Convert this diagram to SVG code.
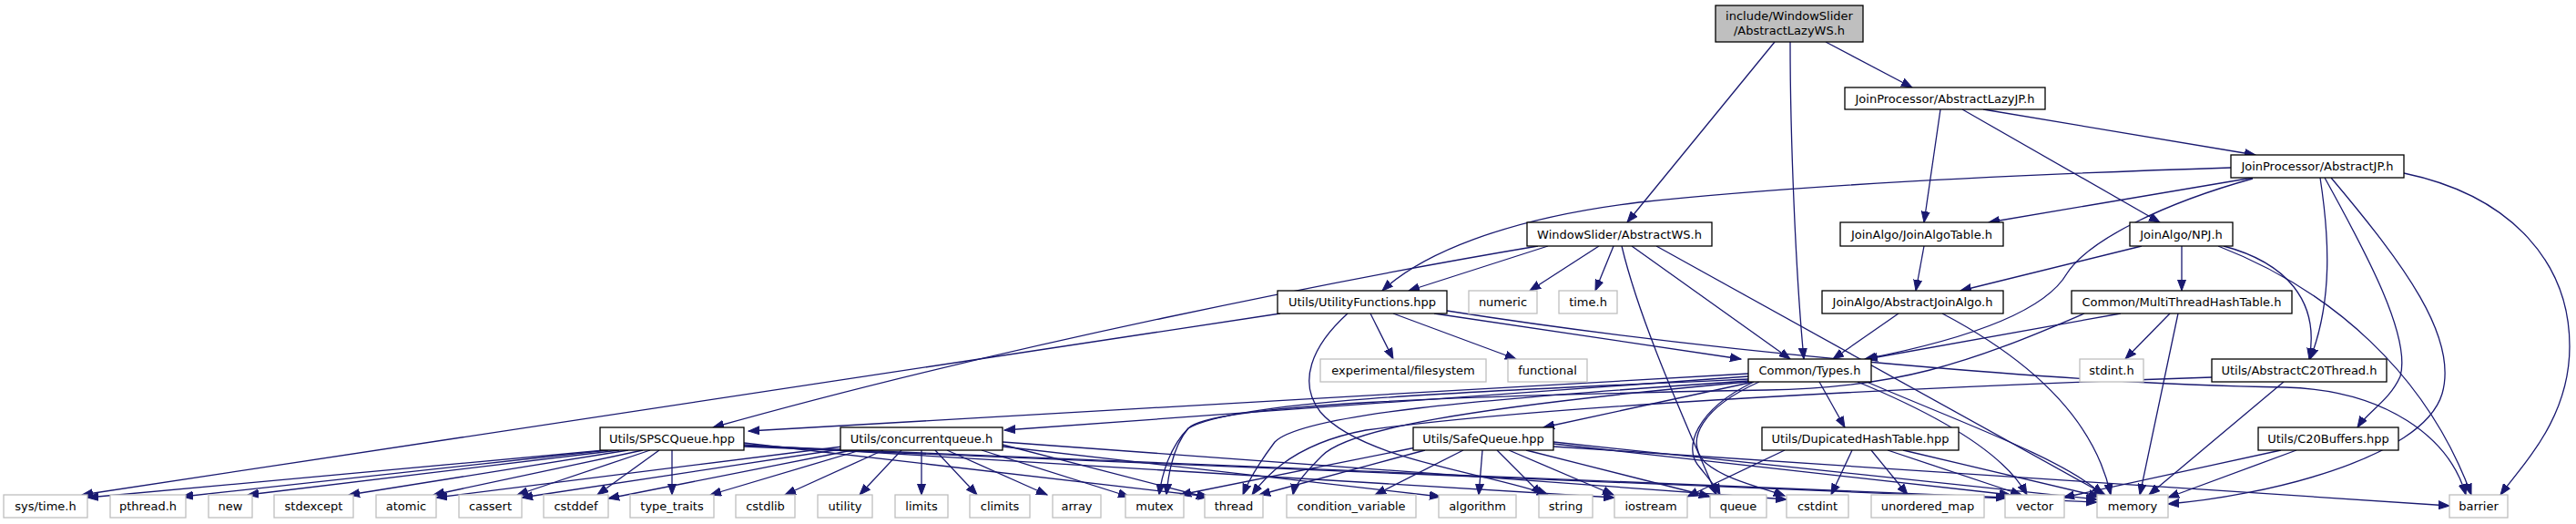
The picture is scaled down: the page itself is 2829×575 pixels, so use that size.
<svg xmlns="http://www.w3.org/2000/svg" width="2829" height="575" viewBox="0 0 2829 575">
<defs>
<style>
.e{fill:none;stroke:#191970;stroke-width:1.3;marker-end:url(#a)}
.n{fill:#ffffff;stroke:#000000;stroke-width:1.3}
.l{fill:#ffffff;stroke:#bfbfbf;stroke-width:1.3}
.r{fill:#bfbfbf;stroke:#000000;stroke-width:1.3}
text{font-family:"DejaVu Sans",sans-serif;font-size:13px;fill:#000000;text-anchor:middle}
</style>
<marker id="a" markerUnits="userSpaceOnUse" markerWidth="13" markerHeight="10" viewBox="0 0 13 10" refX="12" refY="5" orient="auto"><path d="M0,0.5 L12,5 L0,9.5 z" fill="#191970" stroke="#191970" stroke-width="1"/></marker>
</defs>
<rect width="2829" height="575" fill="#ffffff"/>
<g id="edges">
<path class="e" d="M1949,46 L1787,244"/>
<path class="e" d="M1966,46 C1966,150 1972,300 1981,394"/>
<path class="e" d="M2005,46 L2100,96"/>
<path class="e" d="M2178,120 L2477,170"/>
<path class="e" d="M2131,120 L2113,244"/>
<path class="e" d="M2155,120 L2372,244"/>
<path class="e" d="M2450,184 C2200,192 1960,205 1800,222 C1650,240 1560,280 1518,319"/>
<path class="e" d="M2474,195 L2184,244"/>
<path class="e" d="M2474,196 C2380,222 2295,262 2270,300 C2240,352 2120,380 2048,394"/>
<path class="e" d="M2548,195 C2558,260 2562,330 2537,394"/>
<path class="e" d="M2553,195 C2600,280 2648,370 2636,413 C2624,440 2600,452 2589,469"/>
<path class="e" d="M2560,195 C2640,290 2700,370 2682,432 C2660,505 2480,545 2381,553"/>
<path class="e" d="M2640,190 C2760,215 2822,290 2822,380 C2822,460 2770,510 2746,543"/>
<path class="e" d="M2352,270 L2153,319"/>
<path class="e" d="M2396,270 L2396,319"/>
<path class="e" d="M2442,270 C2510,288 2548,330 2536,394"/>
<path class="e" d="M2436,270 C2560,318 2665,410 2714,543"/>
<path class="e" d="M2113,270 L2104,319"/>
<path class="e" d="M1700,270 L1547,319"/>
<path class="e" d="M1689,270 C1480,305 1100,380 783,469"/>
<path class="e" d="M1756,270 L1680,319"/>
<path class="e" d="M1772,270 L1752,319"/>
<path class="e" d="M1792,270 L1966,394"/>
<path class="e" d="M1781,270 C1800,350 1845,450 1885,543"/>
<path class="e" d="M1819,270 L2312,543"/>
<path class="e" d="M1406,344 L90,543"/>
<path class="e" d="M1505,344 L1530,394"/>
<path class="e" d="M1530,344 L1665,394"/>
<path class="e" d="M1575,344 L1912,394"/>
<path class="e" d="M1589,341 C1900,390 2300,422 2510,425 C2620,428 2690,480 2708,543"/>
<path class="e" d="M1480,344 C1440,380 1425,420 1450,452 C1495,505 1640,520 1700,543"/>
<path class="e" d="M1920,410 L822,473"/>
<path class="e" d="M1920,413 L1103,472"/>
<path class="e" d="M1926,419 L1695,469"/>
<path class="e" d="M1998,419 L2026,469"/>
<path class="e" d="M1932,419 C1870,447 1850,482 1872,507 C1895,527 1935,535 1960,544"/>
<path class="e" d="M1926,419 C1862,450 1848,492 1866,512 C1878,527 1885,535 1889,543"/>
<path class="e" d="M2040,419 C2120,452 2200,495 2226,543"/>
<path class="e" d="M2050,419 C2150,462 2270,505 2309,543"/>
<path class="e" d="M1920,416 C1600,430 1355,440 1305,470 C1285,490 1276,520 1273,543"/>
<path class="e" d="M1920,418 C1620,438 1430,455 1400,485 C1385,505 1372,525 1365,543"/>
<path class="e" d="M1920,419 C1600,448 1480,472 1452,500 C1432,520 1422,532 1420,543"/>
<path class="e" d="M1565,494 L1383,543"/>
<path class="e" d="M1607,494 L1510,543"/>
<path class="e" d="M1628,494 L1624,543"/>
<path class="e" d="M1644,494 L1693,543"/>
<path class="e" d="M1657,494 L1772,543"/>
<path class="e" d="M1676,494 L1878,545"/>
<path class="e" d="M1555,491 L1296,543"/>
<path class="e" d="M1706,487 L2208,543"/>
<path class="e" d="M1706,485 L2303,548"/>
<path class="e" d="M1706,490 L2690,555"/>
<path class="e" d="M664,494 L96,546"/>
<path class="e" d="M668,494 L200,545"/>
<path class="e" d="M680,494 L272,543"/>
<path class="e" d="M690,494 L383,543"/>
<path class="e" d="M706,494 L476,543"/>
<path class="e" d="M714,494 L568,543"/>
<path class="e" d="M724,494 L656,543"/>
<path class="e" d="M738,494 L738,543"/>
<path class="e" d="M817,488 L1773,546"/>
<path class="e" d="M817,486 L1328,545"/>
<path class="e" d="M817,490 L2303,551"/>
<path class="e" d="M817,489 L2204,546"/>
<path class="e" d="M925,490 L479,546"/>
<path class="e" d="M930,492 L573,546"/>
<path class="e" d="M936,494 L668,547"/>
<path class="e" d="M945,494 L780,543"/>
<path class="e" d="M970,494 L862,543"/>
<path class="e" d="M990,494 L944,543"/>
<path class="e" d="M1012,494 L1012,543"/>
<path class="e" d="M1027,494 L1073,543"/>
<path class="e" d="M1040,494 L1150,543"/>
<path class="e" d="M1078,494 L1240,545"/>
<path class="e" d="M1101,488 L1326,546"/>
<path class="e" d="M1101,490 L1582,545"/>
<path class="e" d="M1101,485 L1962,548"/>
<path class="e" d="M2329,344 L2050,394"/>
<path class="e" d="M2383,344 L2334,394"/>
<path class="e" d="M2392,344 L2350,543"/>
<path class="e" d="M2289,344 C2160,400 2080,426 1940,428 C1600,434 1330,444 1305,470 C1288,490 1283,520 1281,543"/>
<path class="e" d="M2085,344 L2013,394"/>
<path class="e" d="M2133,344 C2230,395 2300,460 2318,543"/>
<path class="e" d="M2505,494 L2266,546"/>
<path class="e" d="M2522,494 L2381,546"/>
<path class="e" d="M2508,419 L2360,543"/>
<path class="e" d="M2429,414 C2100,425 1700,445 1500,472 C1430,485 1395,515 1375,543"/>
<path class="e" d="M1960,494 L1853,545"/>
<path class="e" d="M2034,494 L2011,543"/>
<path class="e" d="M2055,494 L2095,543"/>
<path class="e" d="M2073,494 L2220,543"/>
<path class="e" d="M2090,494 L2306,545"/>
</g>
<g id="node-root"><rect class="r" x="1884" y="6" width="162" height="40"/><text x="1965" y="22">include/WindowSlider</text><text x="1965" y="38">/AbstractLazyWS.h</text></g>
<g id="node-lazyjp"><rect class="n" x="2026" y="96" width="220" height="24"/><text x="2136" y="112.5">JoinProcessor/AbstractLazyJP.h</text></g>
<g id="node-abstractjp"><rect class="n" x="2450" y="170" width="190" height="25"/><text x="2545" y="187">JoinProcessor/AbstractJP.h</text></g>
<g id="node-abstractws"><rect class="n" x="1677" y="244" width="203" height="26"/><text x="1778.5" y="261.5">WindowSlider/AbstractWS.h</text></g>
<g id="node-joinalgotable"><rect class="n" x="2021" y="244" width="179" height="26"/><text x="2110.5" y="261.5">JoinAlgo/JoinAlgoTable.h</text></g>
<g id="node-npj"><rect class="n" x="2339" y="244" width="113" height="26"/><text x="2395.5" y="261.5">JoinAlgo/NPJ.h</text></g>
<g id="node-utility"><rect class="n" x="1403" y="319" width="186" height="25"/><text x="1496" y="336">Utils/UtilityFunctions.hpp</text></g>
<g id="node-numeric"><rect class="l" x="1613" y="319" width="75" height="25"/><text x="1650.5" y="336">numeric</text></g>
<g id="node-timeh"><rect class="l" x="1712" y="319" width="64" height="25"/><text x="1744" y="336">time.h</text></g>
<g id="node-abstractjoinalgo"><rect class="n" x="2001" y="319" width="199" height="25"/><text x="2100.5" y="336">JoinAlgo/AbstractJoinAlgo.h</text></g>
<g id="node-mtht"><rect class="n" x="2275" y="319" width="242" height="25"/><text x="2396" y="336">Common/MultiThreadHashTable.h</text></g>
<g id="node-expfs"><rect class="l" x="1450" y="394" width="182" height="25"/><text x="1541" y="411">experimental/filesystem</text></g>
<g id="node-functional"><rect class="l" x="1656" y="394" width="87" height="25"/><text x="1699.5" y="411">functional</text></g>
<g id="node-types"><rect class="n" x="1920" y="394" width="135" height="25"/><text x="1987.5" y="411">Common/Types.h</text></g>
<g id="node-stdinth"><rect class="l" x="2284" y="394" width="70" height="25"/><text x="2319" y="411">stdint.h</text></g>
<g id="node-c20thread"><rect class="n" x="2429" y="394" width="192" height="25"/><text x="2525" y="411">Utils/AbstractC20Thread.h</text></g>
<g id="node-spsc"><rect class="n" x="659" y="469" width="158" height="25"/><text x="738" y="486">Utils/SPSCQueue.hpp</text></g>
<g id="node-concurrentqueue"><rect class="n" x="923" y="469" width="178" height="25"/><text x="1012" y="486">Utils/concurrentqueue.h</text></g>
<g id="node-safequeue"><rect class="n" x="1552" y="469" width="154" height="25"/><text x="1629" y="486">Utils/SafeQueue.hpp</text></g>
<g id="node-dup"><rect class="n" x="1935" y="469" width="216" height="25"/><text x="2043" y="486">Utils/DupicatedHashTable.hpp</text></g>
<g id="node-c20buffers"><rect class="n" x="2480" y="469" width="154" height="25"/><text x="2557" y="486">Utils/C20Buffers.hpp</text></g>
<g id="node-systime"><rect class="l" x="4" y="543" width="92" height="25"/><text x="50" y="560">sys/time.h</text></g>
<g id="node-pthread"><rect class="l" x="121" y="543" width="83" height="25"/><text x="162.5" y="560">pthread.h</text></g>
<g id="node-new"><rect class="l" x="229" y="543" width="48" height="25"/><text x="253" y="560">new</text></g>
<g id="node-stdexcept"><rect class="l" x="301" y="543" width="87" height="25"/><text x="344.5" y="560">stdexcept</text></g>
<g id="node-atomic"><rect class="l" x="413" y="543" width="66" height="25"/><text x="446" y="560">atomic</text></g>
<g id="node-cassert"><rect class="l" x="504" y="543" width="69" height="25"/><text x="538.5" y="560">cassert</text></g>
<g id="node-cstddef"><rect class="l" x="597" y="543" width="71" height="25"/><text x="632.5" y="560">cstddef</text></g>
<g id="node-typetraits"><rect class="l" x="692" y="543" width="92" height="25"/><text x="738" y="560">type_traits</text></g>
<g id="node-cstdlib"><rect class="l" x="808" y="543" width="65" height="25"/><text x="840.5" y="560">cstdlib</text></g>
<g id="node-utility2"><rect class="l" x="898" y="543" width="60" height="25"/><text x="928" y="560">utility</text></g>
<g id="node-limits"><rect class="l" x="983" y="543" width="58" height="25"/><text x="1012" y="560">limits</text></g>
<g id="node-climits"><rect class="l" x="1065" y="543" width="66" height="25"/><text x="1098" y="560">climits</text></g>
<g id="node-array"><rect class="l" x="1156" y="543" width="53" height="25"/><text x="1182.5" y="560">array</text></g>
<g id="node-mutex"><rect class="l" x="1236" y="543" width="64" height="25"/><text x="1268" y="560">mutex</text></g>
<g id="node-thread"><rect class="l" x="1323" y="543" width="64" height="25"/><text x="1355" y="560">thread</text></g>
<g id="node-condvar"><rect class="l" x="1413" y="543" width="142" height="25"/><text x="1484" y="560">condition_variable</text></g>
<g id="node-algorithm"><rect class="l" x="1580" y="543" width="85" height="25"/><text x="1622.5" y="560">algorithm</text></g>
<g id="node-string"><rect class="l" x="1690" y="543" width="59" height="25"/><text x="1719.5" y="560">string</text></g>
<g id="node-iostream"><rect class="l" x="1773" y="543" width="80" height="25"/><text x="1813" y="560">iostream</text></g>
<g id="node-queue"><rect class="l" x="1878" y="543" width="62" height="25"/><text x="1909" y="560">queue</text></g>
<g id="node-cstdint"><rect class="l" x="1962" y="543" width="68" height="25"/><text x="1996" y="560">cstdint</text></g>
<g id="node-unorderedmap"><rect class="l" x="2055" y="543" width="124" height="25"/><text x="2117" y="560">unordered_map</text></g>
<g id="node-vector"><rect class="l" x="2202" y="543" width="65" height="25"/><text x="2234.5" y="560">vector</text></g>
<g id="node-memory"><rect class="l" x="2303" y="543" width="78" height="25"/><text x="2342" y="560">memory</text></g>
<g id="node-barrier"><rect class="l" x="2690" y="543" width="64" height="25"/><text x="2722" y="560">barrier</text></g>
</svg>
